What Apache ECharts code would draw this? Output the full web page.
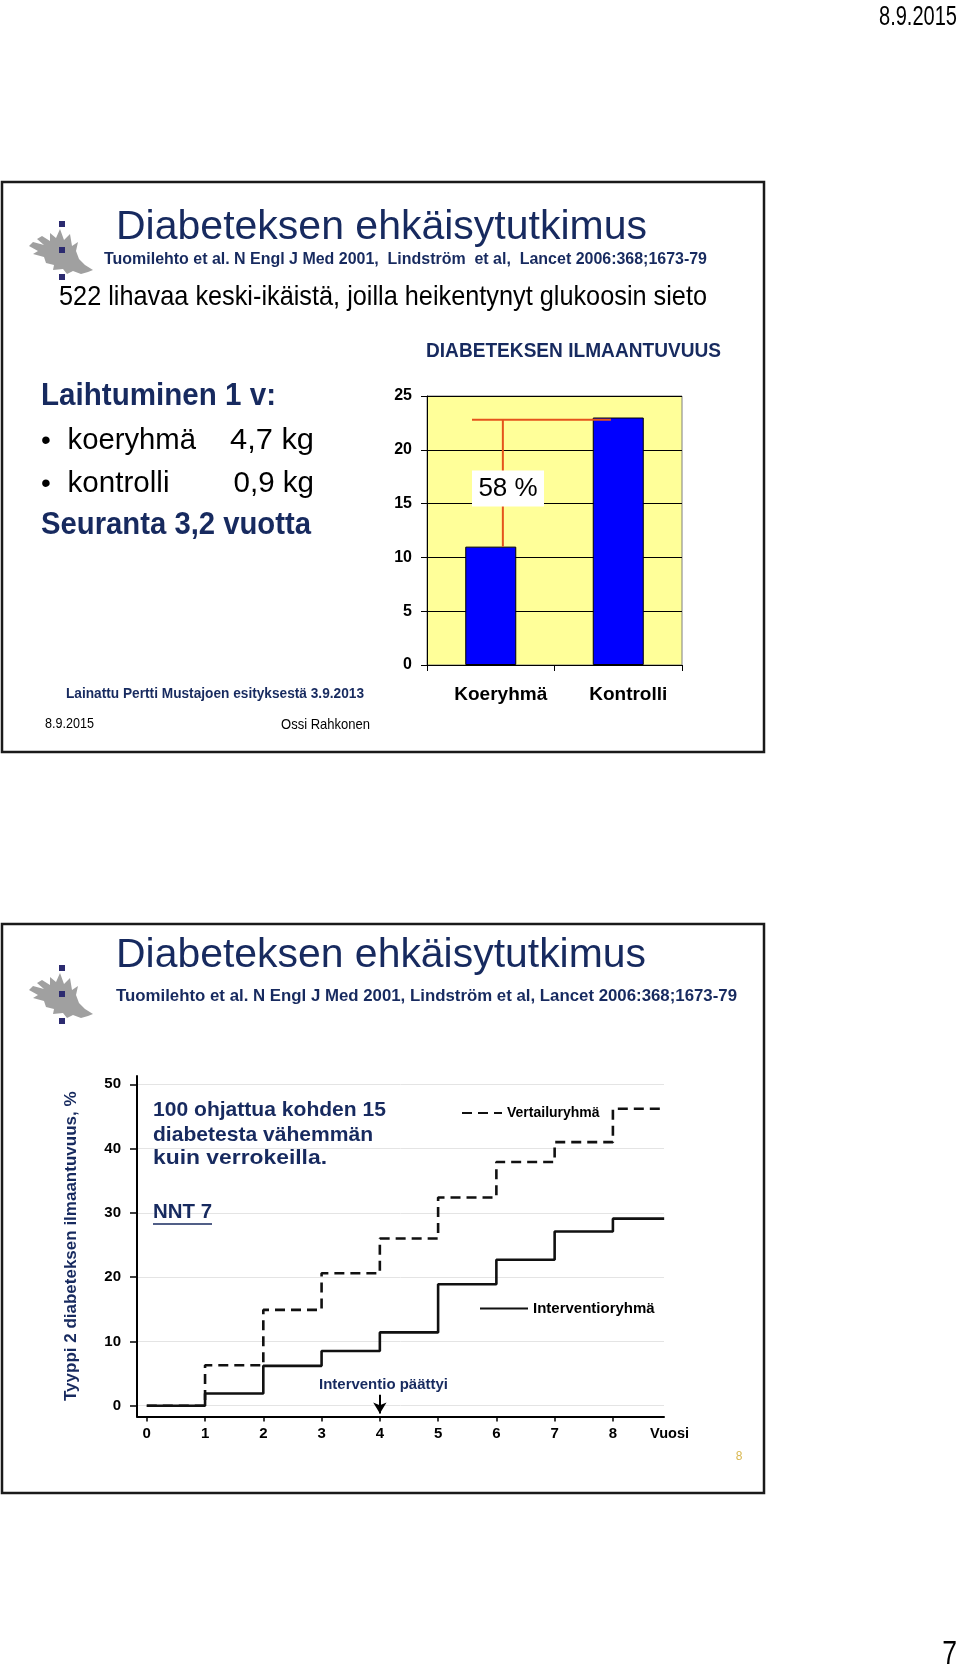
<!DOCTYPE html>
<html><head><meta charset="utf-8">
<script src="https://cdn.jsdelivr.net/npm/echarts@6/dist/echarts.min.js"></script>
<style>html,body{margin:0;padding:0;background:#fff}#c{width:960px;height:1680px}</style>
</head><body><div id="c"></div>
<script>
// ---------- data ----------
const categories = ['Koeryhmä', 'Kontrolli'];
const incidence = [11, 23];
const bracketLevel = 22.8;
const reductionLabel = '58 %';

const years = [0, 1, 2, 3, 4, 5, 6, 7, 8, 8.88];
const intervention = [0, 1.9, 6.2, 8.5, 11.4, 18.9, 22.7, 27.1, 29.1, 29.1];
const control = [0, 6.3, 14.9, 20.6, 26.0, 32.4, 37.9, 41.0, 46.2, 46.2];
const yearTicks = [0, 1, 2, 3, 4, 5, 6, 7, 8];
const pctTicks = [0, 10, 20, 30, 40, 50];
const interventionEnd = 4;

// ---------- helpers ----------
const FF = '"Liberation Sans", Arial, sans-serif';
const NAVY = '#172a5f';
const mctx = document.createElement('canvas').getContext('2d');
function measure(t, size, bold) {
  mctx.font = (bold ? 'bold ' : '') + size + 'px ' + FF;
  return mctx.measureText(t).width;
}
function T(text, x, y, size, o) {
  o = o || {};
  const sx = o.w ? o.w / measure(text, size, o.bold) : (o.sx || 1);
  return {
    type: 'text', x: x, y: y, scaleX: sx, z: 20,
    style: {
      text: text, fontFamily: FF, fontSize: size,
      fontWeight: o.bold ? 'bold' : 'normal', fill: o.color || '#000',
      textAlign: o.align || 'left', textVerticalAlign: 'middle',
      align: o.align || 'left', verticalAlign: 'middle'
    }
  };
}
function logo(dy) {
  const pts = [[93,270],[85,265],[79,259],[76,251],[78,242],[72,246],[70,234],[64,240],[60,229],[56,238],[50,233],[50,241],[42,236],[37,239],[44,245],[33,242],[29,246],[38,251],[33,254],[44,257],[46,263],[54,265],[53,270],[63,269],[67,274],[73,271],[81,274],[88,272]];
  const els = [{ type: 'polygon', z: 5, shape: { points: pts.map(p => [p[0], p[1] + dy]) }, style: { fill: '#a0a0a0' } }];
  [221, 247, 274].forEach(yy => els.push({ type: 'rect', z: 6, shape: { x: 59, y: yy + dy, width: 6, height: 6 }, style: { fill: '#2c2b70' } }));
  return els;
}

const graphics = [
  { type: 'rect', z: 1, shape: { x: 2, y: 182, width: 762, height: 570 }, style: { fill: 'none', stroke: '#1a1a1a', lineWidth: 2.5 } },
  { type: 'rect', z: 1, shape: { x: 2, y: 924, width: 762, height: 569 }, style: { fill: 'none', stroke: '#1a1a1a', lineWidth: 2.5 } },
  ...logo(0), ...logo(744),
  T('8.9.2015', 879, 17, 28, { w: 78 }),
  T('Diabeteksen ehkäisytutkimus', 116, 228, 41, { w: 531, color: NAVY }),
  T('Tuomilehto et al. N Engl J Med 2001,  Lindström  et al,  Lancet 2006:368;1673-79', 104, 260, 16, { w: 603, bold: true, color: NAVY }),
  T('522 lihavaa keski-ikäistä, joilla heikentynyt glukoosin sieto', 59, 297, 28, { w: 648 }),
  T('DIABETEKSEN ILMAANTUVUUS', 426, 351, 21, { w: 295, bold: true, color: NAVY }),
  T('Laihtuminen 1 v:', 41, 396, 32, { w: 235, bold: true, color: NAVY }),
  T('•', 41, 441, 28),
  T('koeryhmä', 67.5, 441, 30, { w: 128.5 }),
  T('4,7 kg', 230, 441, 30, { w: 84 }),
  T('•', 41, 484, 28),
  T('kontrolli', 67.5, 484, 30, { w: 102 }),
  T('0,9 kg', 233.5, 484, 30, { w: 80.5 }),
  T('Seuranta 3,2 vuotta', 41, 525, 32, { w: 270, bold: true, color: NAVY }),
  T('Lainattu Pertti Mustajoen esityksestä 3.9.2013', 66, 694, 15, { w: 298, bold: true, color: NAVY }),
  T('8.9.2015', 45, 724, 15, { w: 49 }),
  T('Ossi Rahkonen', 281, 725, 15, { w: 89 }),
  T('Diabeteksen ehkäisytutkimus', 116, 956, 41, { w: 530, color: NAVY }),
  T('Tuomilehto et al. N Engl J Med 2001, Lindström et al, Lancet 2006:368;1673-79', 116, 996, 17, { w: 621, bold: true, color: NAVY }),
  T('100 ohjattua kohden 15', 153, 1110, 21, { w: 233, bold: true, color: NAVY }),
  T('diabetesta vähemmän', 153, 1135, 21, { w: 220, bold: true, color: NAVY }),
  T('kuin verrokeilla.', 153, 1158, 21, { w: 174, bold: true, color: NAVY }),
  T('NNT 7', 153, 1212, 21, { w: 59, bold: true, color: NAVY }),
  { type: 'line', z: 20, shape: { x1: 153, y1: 1224, x2: 212, y2: 1224 }, style: { stroke: NAVY, lineWidth: 1.6 } },
  T('Interventio päättyi', 319, 1385, 15, { w: 129, bold: true, color: NAVY }),
  T('Vuosi', 650, 1433.5, 15, { w: 39, bold: true }),
  T('8', 739, 1457, 12, { color: '#d9b850', align: 'center' }),
  T('7', 957, 1655, 34, { align: 'right', sx: 0.78 })
];

const chart = echarts.init(document.getElementById('c'), null, { renderer: 'canvas' });
chart.setOption({
  backgroundColor: '#fff',
  animation: false,
  textStyle: { fontFamily: FF },
  graphic: { elements: graphics },
  legend: [
    { data: ['Vertailuryhmä'], left: 461, top: 1106, itemWidth: 40, itemHeight: 12, padding: 0,
      itemStyle: { opacity: 0 },
      textStyle: { fontFamily: FF, fontWeight: 'bold', fontSize: 14, color: '#000' }, selectedMode: false },
    { data: ['Interventioryhmä'], left: 479, top: 1301, itemWidth: 48, itemHeight: 12, padding: 0,
      itemStyle: { opacity: 0 },
      textStyle: { fontFamily: FF, fontWeight: 'bold', fontSize: 15, color: '#000' }, selectedMode: false }
  ],
  grid: [
    { left: 427, top: 396, width: 255, height: 269, show: true, backgroundColor: '#FFFF99', borderColor: '#7f7f7f', borderWidth: 1, containLabel: false },
    { left: 137, top: 1076, width: 527, height: 340.5, containLabel: false }
  ],
  xAxis: [
    { type: 'category', gridIndex: 0, data: categories,
      axisLine: { lineStyle: { color: '#000', width: 1 } },
      axisTick: { show: true, alignWithLabel: false, length: 6, lineStyle: { color: '#000' } },
      axisLabel: { fontFamily: FF, fontWeight: 'bold', fontSize: 19, color: '#000', margin: 20, padding: [0, 0, 0, 20] } },
    { type: 'value', gridIndex: 1, min: -0.168, max: 8.877,
      axisLine: { onZero: false, lineStyle: { color: '#000', width: 2 } },
      axisTick: { show: true, length: 5, customValues: yearTicks, lineStyle: { color: '#000', width: 1.5 } },
      axisLabel: { customValues: yearTicks, fontFamily: FF, fontWeight: 'bold', fontSize: 15, color: '#000', margin: 10 },
      splitLine: { show: false } }
  ],
  yAxis: [
    { type: 'value', gridIndex: 0, min: 0, max: 25, interval: 5,
      axisLine: { show: true, lineStyle: { color: '#000', width: 1 } },
      axisTick: { show: true, length: 6, lineStyle: { color: '#000' } },
      axisLabel: { fontFamily: FF, fontWeight: 'bold', fontSize: 16, color: '#000', margin: 15 },
      splitLine: { show: true, lineStyle: { color: '#000', width: 1 } } },
    { type: 'value', gridIndex: 1, min: -1.68, max: 51.29,
      name: 'Tyyppi 2 diabeteksen ilmaantuvuus, %', nameLocation: 'middle', nameGap: 57, nameRotate: 90,
      nameTextStyle: { fontFamily: FF, fontWeight: 'bold', fontSize: 17, color: NAVY },
      axisLine: { show: true, onZero: false, lineStyle: { color: '#000', width: 2 } },
      axisTick: { show: true, length: 7, customValues: pctTicks, lineStyle: { color: '#000', width: 1.5 } },
      axisLabel: { customValues: pctTicks, fontFamily: FF, fontWeight: 'bold', fontSize: 15, color: '#000', margin: 16 },
      splitLine: { show: true, lineStyle: { color: '#e4e4e4', width: 1 } } }
  ],
  series: [
    { type: 'bar', xAxisIndex: 0, yAxisIndex: 0, data: incidence, barWidth: 51,
      itemStyle: { color: '#0000FF', borderColor: '#000', borderWidth: 1 }, z: 3 },
    { type: 'custom', xAxisIndex: 0, yAxisIndex: 0, data: [[0, bracketLevel]], z: 5, silent: true,
      renderItem: function (params, api) {
        const top0 = api.coord([0, bracketLevel]);
        const top1 = api.coord([1, bracketLevel]);
        const low0 = api.coord([0, incidence[0]]);
        const mid = api.coord([0, 16.4]);
        const band = api.size([1, 0])[0];
        const vx = top0[0] + 0.095 * band;
        const hx0 = top0[0] - 0.147 * band;
        const hx1 = top1[0] - 0.057 * band;
        const red = '#e5541c';
        return { type: 'group', children: [
          { type: 'line', shape: { x1: hx0, y1: top0[1], x2: hx1, y2: top1[1] }, style: { stroke: red, lineWidth: 2 } },
          { type: 'line', shape: { x1: vx, y1: top0[1], x2: vx, y2: low0[1] }, style: { stroke: red, lineWidth: 2 } },
          { type: 'rect', shape: { x: top0[0] - 0.147 * band, y: mid[1] - 18, width: 72, height: 36 }, style: { fill: '#fff' } },
          { type: 'text', style: { text: reductionLabel, x: top0[0] - 0.147 * band + 36, y: mid[1], fontFamily: FF, fontSize: 26, fill: '#000', align: 'center', verticalAlign: 'middle', textAlign: 'center', textVerticalAlign: 'middle' } }
        ] };
      } },
    { name: 'Vertailuryhmä', type: 'line', xAxisIndex: 1, yAxisIndex: 1, step: 'end', symbol: 'none', showSymbol: false,
      data: years.map((x, i) => [x, control[i]]), z: 3,
      lineStyle: { color: '#111', width: 2.6, type: [10, 6] }, itemStyle: { color: '#111' } },
    { name: 'Interventioryhmä', type: 'line', xAxisIndex: 1, yAxisIndex: 1, step: 'end', symbol: 'none', showSymbol: false,
      data: years.map((x, i) => [x, intervention[i]]), z: 4,
      lineStyle: { color: '#111', width: 2.6 }, itemStyle: { color: '#111' },
      markLine: { silent: true, symbol: ['none', 'arrow'], symbolSize: [10, 11], label: { show: false },
        lineStyle: { color: '#000', width: 2, type: 'solid' },
        data: [[{ coord: [interventionEnd, 1.7] }, { coord: [interventionEnd, -1.2] }]] } }
  ]
});
</script></body></html>
